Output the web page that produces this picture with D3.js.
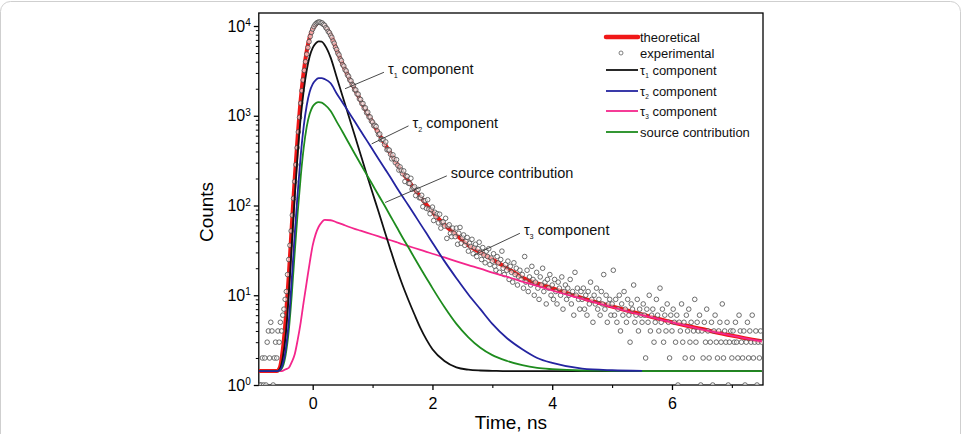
<!DOCTYPE html>
<html>
<head>
<meta charset="utf-8">
<script src="https://cdn.jsdelivr.net/npm/d3@7"></script>
<style>
  body { margin: 0; background: #fff; }
  svg { display: block; font-family: "Liberation Sans", Arial, sans-serif; }
</style>
</head>
<body>
<div id="chart"></div>
<script>
// Fitted curves on a common time grid (ns)
var fitTime = [-0.9, -0.6, -0.55, -0.5, -0.45, -0.4, -0.35, -0.3, -0.25, -0.2, -0.15, -0.1, -0.05, 0, 0.05, 0.1, 0.15, 0.2, 0.3, 0.4,
  0.5, 0.6, 0.7, 0.8, 0.9, 1.0, 1.1, 1.2, 1.3, 1.4, 1.5, 1.6, 1.7, 1.8, 1.9, 2.0, 2.2, 2.4, 2.6, 2.8,
  3.0, 3.25, 3.5, 3.75, 4.0, 4.5, 5.0, 5.5, 6.0, 6.5, 7.0, 7.5];

var theoretical = [1.43, 1.43, 1.55, 2.45, 5.5, 16.3, 58, 200, 600, 1520, 3100, 5260, 7500, 9250, 10300, 10850, 10800, 10100, 7950, 5400,
  3760, 2700, 2000, 1480, 1110, 840, 640, 490, 380, 296, 234, 188, 152, 124, 102, 85, 61, 47, 36, 30,
  25, 20, 15.8, 13.6, 12, 9.3, 7.5, 6.1, 5.0, 4.2, 3.55, 3.07];

var tau1 = [1.43, 1.43, 1.5, 2.0, 3.6, 10, 36, 125, 380, 950, 1900, 3200, 4600, 5700, 6400, 6750, 6700, 6150, 4450, 2700,
  1640, 1000, 610, 370, 225, 138, 85, 52, 32, 20, 13, 8.8, 6.1, 4.3, 3.2, 2.5, 1.85, 1.57, 1.48, 1.45,
  1.44, 1.43, 1.43, 1.43, 1.43, 1.43, 1.43, 1.43, 1.43, 1.43, 1.43, 1.43];

var tau2 = [1.43, 1.43, 1.46, 1.7, 2.5, 5, 15, 48, 140, 360, 760, 1300, 1850, 2250, 2500, 2620, 2630, 2560, 2300, 1770,
  1400, 1100, 870, 680, 535, 420, 330, 260, 205, 160, 126, 100, 79, 62, 49, 38.5, 24, 15.5, 10.2, 7.0,
  4.8, 3.3, 2.5, 2.0, 1.76, 1.52, 1.46, 1.44, null, null, null, null];

var tau3 = [1.43, 1.43, 1.43, 1.44, 1.5, 1.55, 1.8, 2.2, 3.2, 5, 8.5, 14, 23, 36, 48, 58, 65, 69, 68.5, 65,
  61.5, 58, 55, 52.4, 49.9, 47.5, 45.2, 43, 41, 39, 37, 35.3, 33.6, 32, 30.5, 29, 26.4, 23.9, 21.7, 19.8,
  17.9, 16, 14.2, 12.7, 11.3, 9.1, 7.35, 6.0, 5.0, 4.17, 3.55, 3.07];

var source = [1.43, 1.43, 1.45, 1.6, 2.2, 4, 10, 30, 85, 210, 440, 750, 1050, 1270, 1380, 1420, 1400, 1330, 1130, 860,
  660, 500, 380, 290, 222, 170, 130, 100, 76, 58, 44, 34, 26, 20, 15.5, 12, 7.4, 4.8, 3.4, 2.6,
  2.15, 1.85, 1.66, 1.55, 1.5, 1.45, 1.44, 1.43, 1.43, 1.43, 1.43, 1.43];

// Experimental counts, one per channel: first channel at -0.9 ns, channels 0.02 ns wide
var expStart = -0.9, expStep = 0.02;
var expCounts = [
  0, 1, 1, 2, 1, 2, 1, 3, 4, 2, 5, 4, 1, 2, 3, 2, 4, 3,
  5, 4, 6, 7, 9, 11, 17,
  25, 36, 52, 78, 120, 185, 285, 440, 660, 960, 1380, 1900, 2500, 3200, 4000, 4850, 5750, 6700, 7650, 8500, 9250, 9850, 10350, 10700, 10950, 11050,
  11080, 10820, 10790, 10380, 10170, 9590, 9290, 8690, 8410, 7870, 7480, 6800, 6420, 5790, 5470, 4980, 4760, 4290, 4110, 3700,
  3580, 3250, 3160, 2850, 2750, 2500, 2450, 2230, 2180, 1950, 1940, 1750, 1740, 1540, 1520, 1370, 1370, 1215, 1225, 1080,
  1095, 970, 968, 872,
  849, 774, 782, 758, 675, 617, 627, 541, 547, 543, 477, 511, 418, 420, 414, 372, 331, 367, 332, 300,
  324, 280, 248, 269, 247, 226, 243, 185, 214, 211, 177, 176, 201, 152, 158, 162, 129, 146, 151, 122,
  122, 130, 97, 113, 113, 93, 116, 91, 81, 90, 96, 68, 84, 75, 81, 64, 80, 56, 65, 66,
  59, 72, 43, 59, 61, 49, 45, 56, 49, 45, 56, 37, 49, 57, 38, 44,
  47, 36, 40, 44, 31, 38, 35, 42, 29, 34, 37, 27, 33, 39, 30, 25, 34, 28, 23, 31, 27, 33, 22, 26,
  24, 29, 21, 19, 27, 23, 18, 25, 31, 20, 17, 22, 19, 24, 15, 21, 18, 14, 23, 17, 20, 13, 16, 19, 15,
  17, 12, 27, 14, 19, 11, 16, 13, 21, 15, 10, 14, 18, 12, 9, 16, 13, 20, 11, 14, 8, 15, 12, 17, 10,
  13, 9, 15, 11, 8, 14, 12, 10, 16, 7, 11, 13, 9, 12, 10, 15, 8, 11, 6, 18, 10, 12, 9, 7, 11,
  9, 12, 7, 10, 6, 11, 8, 14, 9, 5, 10, 8, 12, 7, 9, 6, 11, 8, 17, 7, 10, 5, 8, 9, 6,
  8, 19, 6, 9, 5, 7, 10, 4, 8, 6, 11, 7, 5, 9, 6, 3, 8, 7, 13, 5, 6, 9, 4, 7, 6,
  5, 8, 6, 2, 7, 5, 10, 4, 6, 7, 3, 5, 9, 6, 4, 12, 5, 7, 3, 6, 4, 8, 5, 2, 6,
  4, 7, 5, 3, 6, 1, 5, 4, 8, 3, 5, 2, 6, 4, 7, 3, 5, 2, 4, 9, 3, 5, 4, 6, 1,
  4, 2, 5, 3, 7, 4, 2, 3, 5, 1, 4, 6, 3, 2, 4, 5, 3, 8, 2, 4, 3, 5, 1, 3, 4,
  2, 4, 3, 5, 3, 2, 6, 4, 3, 2, 4, 1, 3, 5, 2, 4, 3, 6, 2, 3, 4, 1, 3, 2, 4, 3
];

var xTicks = [0, 2, 4, 6], xMinorTicks = [1, 3, 5, 7];
var yTicks = [1, 10, 100, 1000, 10000], yTickPowers = ["0", "1", "2", "3", "4"];

var legendItems = [
  {label: "theoretical", color: "#f01818", kind: "thick"},
  {label: "experimental", color: "#606060", kind: "circle"},
  {tau: "1", label: "component", color: "#111111"},
  {tau: "2", label: "component", color: "#2424a0"},
  {tau: "3", label: "component", color: "#f4268c"},
  {label: "source contribution", color: "#1e8c1e"}
];

// leader lines: from (x0, y0) next to the text to (x1, y1) on the curve, in ns / counts
var annotations = [
  {tau: "1", label: "component", x0: 1.19, y0: 3050, x1: 0.54, y1: 2000},
  {tau: "2", label: "component", x0: 1.60, y0: 771, x1: 0.985, y1: 486},
  {label: "source contribution", x0: 2.24, y0: 214, x1: 1.21, y1: 108},
  {tau: "3", label: "component", x0: 3.46, y0: 49, x1: 2.69, y1: 28}
];

// Set the dimensions and margins of the graph
var margin = {top: 13, left: 258.8},
    width = 504.2,
    height = 372;

var svg = d3.select("#chart")
  .append("svg")
    .attr("width", 961)
    .attr("height", 434);

// light rounded frame round the whole figure
svg.append("rect")
  .attr("x", 0.5).attr("y", 1.5)
  .attr("width", 960).attr("height", 520)
  .attr("rx", 10)
  .attr("fill", "none")
  .attr("stroke", "#cfcfcf");

var g = svg.append("g")
  .attr("transform", "translate(" + margin.left + "," + margin.top + ")");

var x = d3.scaleLinear().domain([-0.9, 7.52]).range([0, width]);
var y = d3.scaleLog().domain([1, 13960]).range([height, 0]);

g.append("clipPath").attr("id", "plot-clip")
  .append("rect").attr("width", width).attr("height", height);

// X axis, major and minor ticks
g.append("g")
  .attr("transform", "translate(0," + height + ")")
  .call(d3.axisBottom(x).tickValues(xTicks).tickSize(5).tickPadding(8).tickFormat(d3.format("d")))
  .call(a => a.select(".domain").remove())
  .call(a => a.selectAll(".tick line").attr("stroke", "#000").attr("stroke-width", 1.3))
  .call(a => a.selectAll(".tick text").attr("font-size", 16).attr("font-family", "Liberation Sans, Arial, sans-serif"));
g.append("g")
  .attr("transform", "translate(0," + height + ")")
  .call(d3.axisBottom(x).tickValues(xMinorTicks).tickSize(3).tickFormat(""))
  .call(a => a.select(".domain").remove())
  .call(a => a.selectAll(".tick line").attr("stroke", "#000").attr("stroke-width", 1.1));

// Y axis (log), decades labelled 10^n, minor ticks 2..9
var yMinor = [];
yTicks.forEach(function(t) {
  for (var k = 2; k <= 9; k++) if (t * k <= y.domain()[1]) yMinor.push(t * k);
});
g.append("g")
  .call(d3.axisLeft(y).tickValues(yMinor).tickSize(3).tickFormat(""))
  .call(a => a.select(".domain").remove())
  .call(a => a.selectAll(".tick line").attr("stroke", "#000").attr("stroke-width", 1));
var yAxis = g.append("g")
  .call(d3.axisLeft(y).tickValues(yTicks).tickSize(5).tickPadding(3).tickFormat(""))
  .call(a => a.select(".domain").remove())
  .call(a => a.selectAll(".tick line").attr("stroke", "#000").attr("stroke-width", 1.3));
yAxis.selectAll(".tick text")
  .attr("font-size", 16)
  .attr("font-family", "Liberation Sans, Arial, sans-serif")
  .each(function(d, i) {
    var t = d3.select(this);
    t.append("tspan").text("10");
    t.append("tspan").attr("font-size", 10).attr("dy", "-5.5").text(yTickPowers[i]);
  });

// plot frame
g.append("rect")
  .attr("width", width).attr("height", height)
  .attr("fill", "none")
  .attr("stroke", "#000")
  .attr("stroke-width", 1.3);

var plot = g.append("g").attr("clip-path", "url(#plot-clip)");

function curveOf(values) {
  return d3.line()
    .defined((d, i) => values[i] != null)
    .x((d, i) => x(fitTime[i]))
    .y((d, i) => y(values[i]))
    .curve(d3.curveMonotoneX)(fitTime);
}

// theoretical (thick red)
plot.append("path")
  .attr("d", curveOf(theoretical))
  .attr("fill", "none")
  .attr("stroke", legendItems[0].color)
  .attr("stroke-width", 4)
  .attr("stroke-linejoin", "round");

// experimental points
var expData = expCounts.map((c, i) => ({t: expStart + i * expStep, c: c})).filter(d => d.c > 0);
plot.selectAll("circle.exp")
  .data(expData)
  .enter()
  .append("circle")
    .attr("class", "exp")
    .attr("cx", d => x(d.t))
    .attr("cy", d => y(d.c))
    .attr("r", 2.3)
    .attr("fill", "#fff")
    .attr("fill-opacity", 0.6)
    .attr("stroke", "#4a4a4a")
    .attr("stroke-width", 0.8);

// components
[[tau3, 4], [tau1, 2], [source, 5], [tau2, 3]].forEach(function(p) {
  plot.append("path")
    .attr("d", curveOf(p[0]))
    .attr("fill", "none")
    .attr("stroke", legendItems[p[1]].color)
    .attr("stroke-width", 1.8);
});

function writeLabel(sel, item, fs) {
  if (item.tau) {
    sel.append("tspan").text("\u03c4");
    sel.append("tspan").attr("font-size", fs * 0.5).attr("dy", fs * 0.28).text(item.tau);
    sel.append("tspan").attr("dy", -fs * 0.28).text(" " + item.label);
  } else {
    sel.text(item.label);
  }
}

// annotations with leader lines
annotations.forEach(function(a) {
  g.append("line")
    .attr("x1", x(a.x0)).attr("y1", y(a.y0))
    .attr("x2", x(a.x1)).attr("y2", y(a.y1))
    .attr("stroke", "#333")
    .attr("stroke-width", 0.9);
  var t = g.append("text")
    .attr("x", x(a.x0) + 4)
    .attr("y", y(a.y0) + 2)
    .attr("font-size", 14.5)
    .attr("fill", "#111");
  writeLabel(t, a, 14.5);
});

// legend
var legendRowY = [37, 53, 70, 91, 111, 132];
var legend = svg.append("g");
legendItems.forEach(function(item, i) {
  var ly = legendRowY[i];
  if (item.kind === "circle") {
    legend.append("circle")
      .attr("cx", 621).attr("cy", ly)
      .attr("r", 2)
      .attr("fill", "none")
      .attr("stroke", item.color)
      .attr("stroke-width", 0.8);
  } else {
    legend.append("line")
      .attr("x1", 606).attr("x2", 638)
      .attr("y1", ly).attr("y2", ly)
      .attr("stroke", item.color)
      .attr("stroke-width", item.kind === "thick" ? 4.5 : 1.8)
      .attr("stroke-linecap", item.kind === "thick" ? "round" : "butt");
  }
  var t = legend.append("text")
    .attr("x", 640)
    .attr("y", ly + 4.5)
    .attr("font-size", 13)
    .attr("fill", "#111");
  writeLabel(t, item, 13);
});

// axis titles
svg.append("text")
  .attr("transform", "translate(213,212) rotate(-90)")
  .attr("text-anchor", "middle")
  .attr("font-size", 19)
  .text("Counts");
svg.append("text")
  .attr("x", margin.left + width / 2)
  .attr("y", 429)
  .attr("text-anchor", "middle")
  .attr("font-size", 19)
  .text("Time, ns");
</script>
</body>
</html>
